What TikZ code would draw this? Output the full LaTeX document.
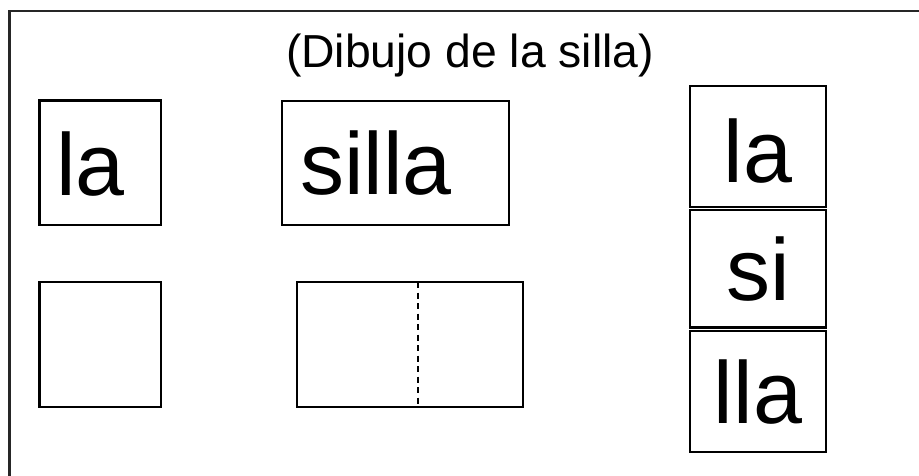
\documentclass[tikz,border=0pt]{standalone}
\usepackage{fontspec}
\setmainfont{Liberation Sans}
\begin{document}
\begin{tikzpicture}[x=1pt,y=-1pt,
  box/.style={draw=black,line width=2.4pt},
  frame/.style={draw=black!85,line width=2.2pt},
  big/.style={inner sep=0pt,font=\fontsize{88}{88}\selectfont},
  title/.style={inner sep=0pt,font=\fontsize{46.3}{46}\selectfont}]
\useasboundingbox[fill=white] (0,0) rectangle (919,475);
% outer frame (runs off the right and bottom edges)
\draw[frame] (9.5,10.8) rectangle (935,490);
% title
\node[title,anchor=base] (title) at (470,67) {(Dibujo de la silla)};
% top row
\draw[box] (39.5,100.5) rectangle (161,225);
\node[big,anchor=base west] (la1) at (56,195) {la};
\draw[box] (282,101) rectangle (509,225);
\node[big,anchor=base west] (silla) at (300,194) {silla};
% bottom row
\draw[box] (39.5,282) rectangle (161,407);
\draw[box] (297,282) rectangle (523,407);
\coordinate (dtop) at (418,282);
\coordinate (dbot) at (418,404);
\draw[line width=2.4pt,dash pattern=on 6pt off 4.5pt] (dtop) -- (dbot);
% right column
\draw[box] (690,86) rectangle (826,206.8);
\draw[box] (690,210.2) rectangle (826,327.6);
\draw[box] (690,331) rectangle (826,452);
\node[big,anchor=base] (la2) at (758,182) {la};
\node[big,anchor=base] (si) at (758,300) {si};
\node[big,anchor=base] (lla) at (758,423) {lla};
\end{tikzpicture}
\end{document}
